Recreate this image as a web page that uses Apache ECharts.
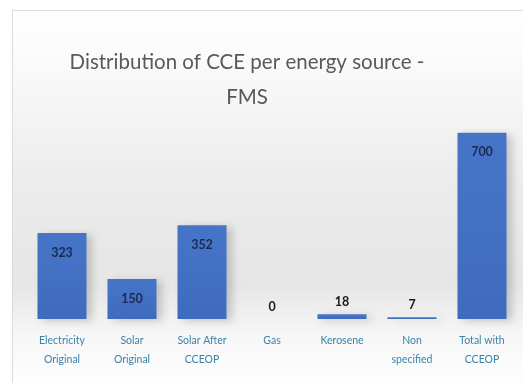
<!DOCTYPE html>
<html>
<head>
<meta charset="utf-8">
<script src="https://cdn.jsdelivr.net/npm/echarts@6/dist/echarts.min.js"></script>
<style>
  html, body { margin: 0; padding: 0; background: #fff; }
  #main { width: 523px; height: 383px; }
</style>
</head>
<body>
<div id="main"></div>
<script>
// categories and values
var categories = ['Electricity\nOriginal', 'Solar\nOriginal', 'Solar After\nCCEOP', 'Gas', 'Kerosene', 'Non\nspecified', 'Total with\nCCEOP'];
var values = [323, 150, 352, 0, 18, 7, 700];

var chart = echarts.init(document.getElementById('main'));

var barData = values.map(function (v) {
  var small = v < 100;
  return {
    value: v,
    label: {
      position: small ? 'top' : 'insideTop',
      distance: small ? 6 : 13,
      color: small ? '#1a1a1a' : '#1b2a52'
    }
  };
});

var option = {
  backgroundColor: '#fff',
  graphic: [
    {
      type: 'rect',
      z: -10,
      shape: { x: 12.5, y: 10.5, width: 520, height: 380 },
      style: {
        fill: new echarts.graphic.LinearGradient(0, 0, 0, 1, [
          { offset: 0, color: '#ffffff' },
          { offset: 0.12, color: '#fbfbfb' },
          { offset: 0.45, color: '#ececec' },
          { offset: 0.72, color: '#e6e6e6' },
          { offset: 0.86, color: '#f7f7f7' },
          { offset: 1, color: '#ffffff' }
        ]),
        stroke: '#dcdcdc',
        lineWidth: 1
      }
    }
  ],
  title: {
    text: 'Distribution of CCE per energy source -\nFMS',
    left: 242,
    textAlign: 'center',
    top: 40,
    textStyle: {
      fontFamily: 'Lato',
      fontSize: 20.5,
      fontWeight: 'normal',
      color: '#595959',
      lineHeight: 35
    }
  },
  grid: {
    left: 27,
    right: 6,
    top: 106,
    bottom: 64
  },
  xAxis: {
    type: 'category',
    data: categories,
    axisLine: { show: false },
    axisTick: { show: false },
    axisLabel: {
      interval: 0,
      margin: 12,
      fontFamily: 'Lato',
      fontSize: 10.5,
      lineHeight: 19,
      color: '#3a82a8'
    }
  },
  yAxis: {
    type: 'value',
    min: 0,
    max: 800,
    show: false,
    splitLine: { show: false }
  },
  series: [
    {
      type: 'bar',
      data: barData,
      barCategoryGap: '30%',
      itemStyle: {
        color: new echarts.graphic.LinearGradient(0, 0, 0, 1, [
          { offset: 0, color: '#4675c8' },
          { offset: 1, color: '#3f6bbd' }
        ]),
        shadowColor: 'rgba(0,0,0,0.18)',
        shadowBlur: 8,
        shadowOffsetX: 5,
        shadowOffsetY: 2
      },
      label: {
        show: true,
        fontFamily: 'Lato',
        fontSize: 12.5,
        fontWeight: 'bold'
      }
    }
  ]
};

chart.setOption(option);
</script>
</body>
</html>
